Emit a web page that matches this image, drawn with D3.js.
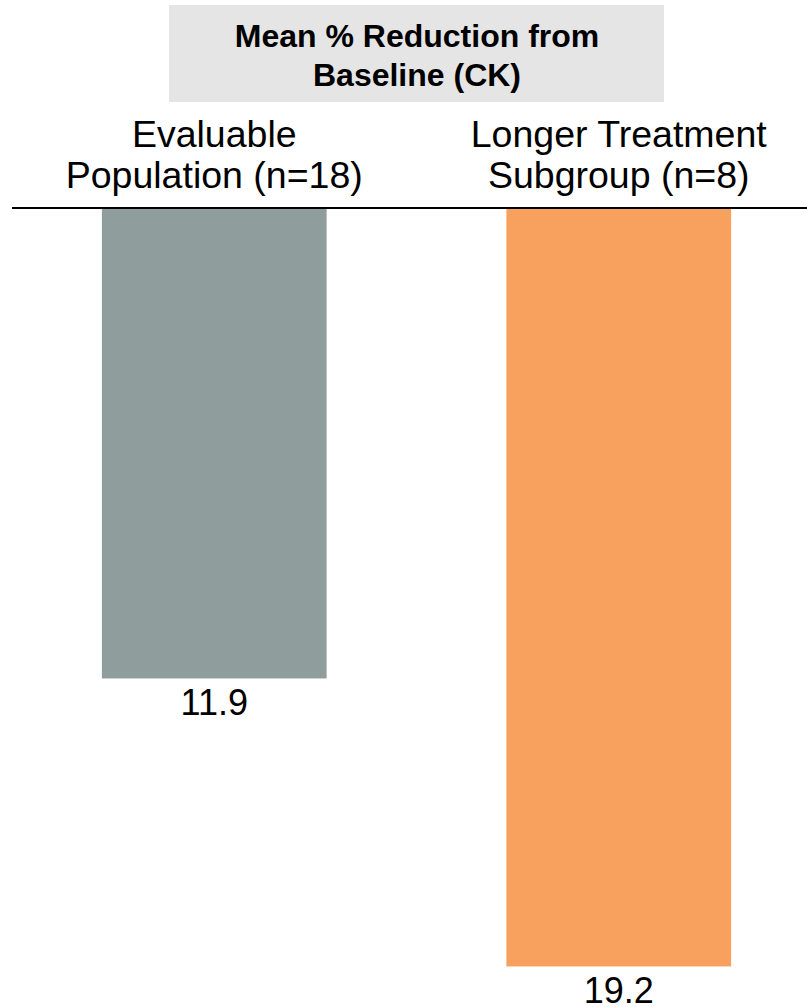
<!DOCTYPE html>
<html>
<head>
<meta charset="utf-8">
<script src="https://cdn.jsdelivr.net/npm/d3@7"></script>
<style>
  html, body { margin: 0; padding: 0; background: #ffffff; }
  svg { display: block; font-family: "Liberation Sans", Arial, sans-serif; }
</style>
</head>
<body>
<svg id="chart" width="807" height="1007"></svg>
<script>
// Mean % reduction from baseline (CK), by group
const groups = ["Evaluable Population (n=18)", "Longer Treatment Subgroup (n=8)"];
const groupLines = [["Evaluable", "Population (n=18)"], ["Longer Treatment", "Subgroup (n=8)"]];
const reductions = [11.9, 19.2];
const barColors = ["#8f9e9c", "#f8a15f"];
const titleLines = ["Mean % Reduction from", "Baseline (CK)"];

const svg = d3.select("#chart");

const x = d3.scaleBand()
  .domain(groups)
  .range([12, 821])
  .paddingInner(0.4444)
  .paddingOuter(0.2222);

const y = d3.scaleLinear()
  .domain([0, 20])
  .range([209, 998]);

// Title box
svg.append("rect")
  .attr("x", 169).attr("y", 5)
  .attr("width", 495).attr("height", 97)
  .attr("fill", "#e5e5e5");

svg.append("text")
  .attr("x", 417).attr("y", 47)
  .attr("text-anchor", "middle")
  .attr("font-weight", "bold")
  .attr("font-size", 32)
  .attr("fill", "#000")
  .selectAll("tspan")
  .data(titleLines)
  .join("tspan")
  .attr("x", 417)
  .attr("dy", (d, i) => i === 0 ? 0 : 39)
  .text(d => d);

// Bars hanging down from the baseline
svg.append("g")
  .selectAll("rect")
  .data(reductions)
  .join("rect")
  .attr("x", (d, i) => x(groups[i]))
  .attr("y", y(0))
  .attr("width", x.bandwidth())
  .attr("height", d => y(d) - y(0))
  .attr("fill", (d, i) => barColors[i]);

// Baseline
svg.append("line")
  .attr("x1", 12).attr("x2", 807)
  .attr("y1", 208).attr("y2", 208)
  .attr("stroke", "#000")
  .attr("stroke-width", 2);

// Group labels above the baseline
svg.append("g")
  .selectAll("text")
  .data(groups)
  .join("text")
  .attr("text-anchor", "middle")
  .attr("font-size", 37.5)
  .attr("fill", "#000")
  .attr("y", 147)
  .each(function(d, i) {
    const cx = x(d) + x.bandwidth() / 2;
    d3.select(this).selectAll("tspan")
      .data(groupLines[i])
      .join("tspan")
      .attr("x", cx)
      .attr("dy", (t, j) => j === 0 ? 0 : 41)
      .text(t => t);
  });

// Value labels under each bar
svg.append("g")
  .selectAll("text")
  .data(reductions)
  .join("text")
  .attr("text-anchor", "middle")
  .attr("font-size", 36)
  .attr("fill", "#000")
  .attr("x", (d, i) => x(groups[i]) + x.bandwidth() / 2)
  .attr("y", d => y(d) + 37)
  .text(d => d.toFixed(1));
</script>
</body>
</html>
